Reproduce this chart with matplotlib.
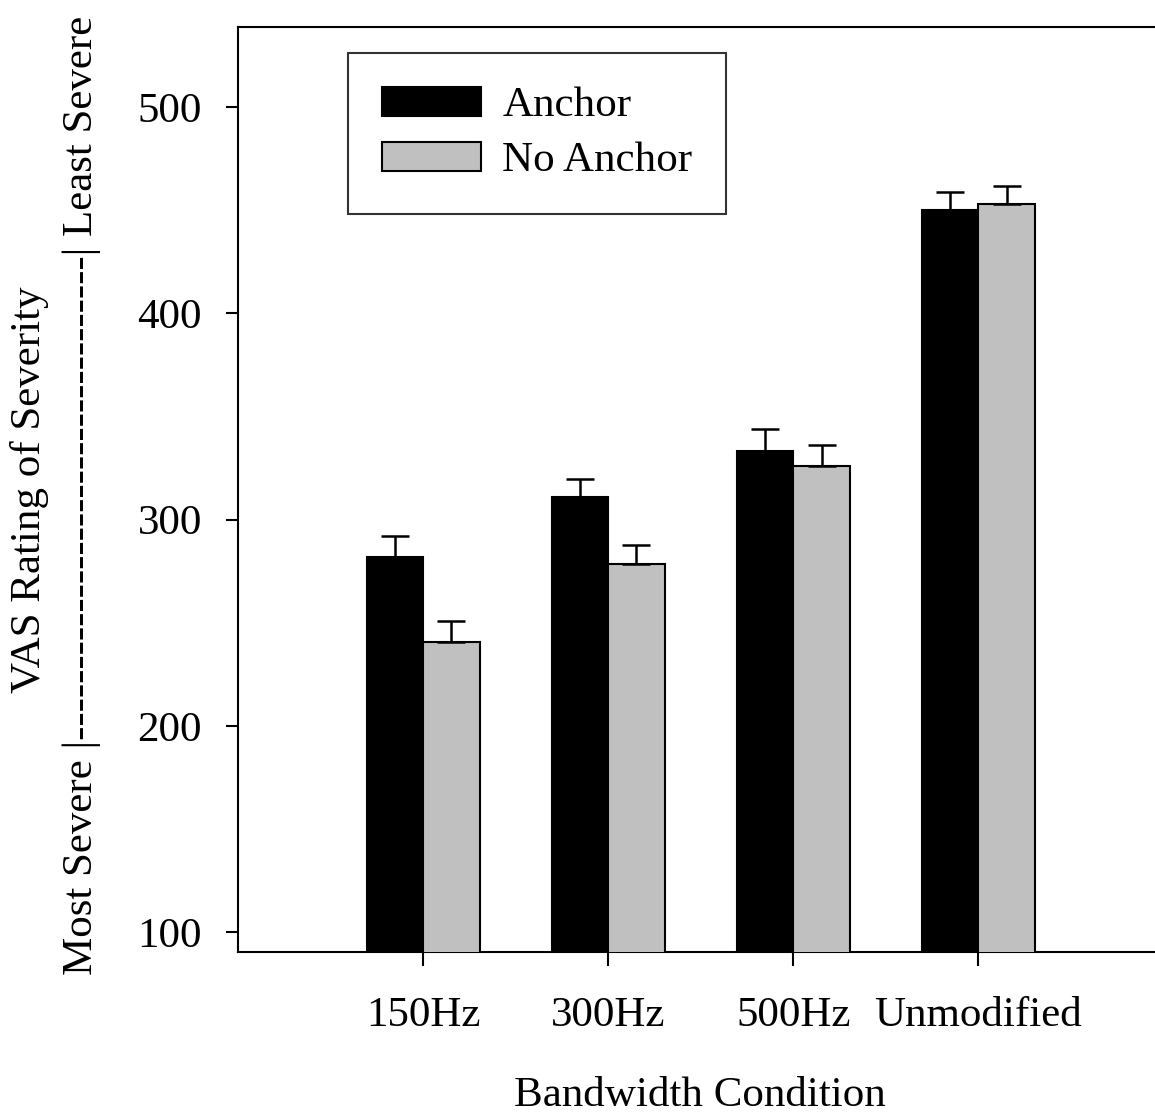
import matplotlib
matplotlib.use("Agg")
import matplotlib.pyplot as plt
import numpy as np

categories = ["150Hz", "300Hz", "500Hz", "Unmodified"]
anchor = [282.0, 310.8, 333.4, 450.1]
anchor_err = [10.2, 8.9, 10.3, 8.6]
no_anchor = [240.5, 278.4, 325.9, 452.9]
no_anchor_err = [10.5, 9.2, 10.4, 8.9]
yticks = [100, 200, 300, 400, 500]

plt.rcParams['font.family'] = ['Liberation Serif', 'DejaVu Serif']
FS = 31

W, H = 1155, 1117
fig = plt.figure(figsize=(W / 100, H / 100), dpi=100)
ax = fig.add_axes([238 / W, (H - 952) / H, 925.5 / W, (952 - 27) / H])

x = np.arange(len(categories))
bw = 0.305
ekw = dict(elinewidth=1.8, capthick=1.8, ecolor='black')
ax.bar(x - bw / 2, anchor, bw, color='black', edgecolor='black', linewidth=1.5,
       yerr=[np.zeros(4), anchor_err], capsize=10, error_kw=ekw,
       label='Anchor', zorder=3)
ax.bar(x + bw / 2, no_anchor, bw, color='#c0c0c0', edgecolor='black', linewidth=1.5,
       yerr=[np.zeros(4), no_anchor_err], capsize=10, error_kw=ekw,
       label='No Anchor', zorder=3)

ax.set_xlim(-1, 4)
ax.set_ylim(90.3, 538.8)
ax.set_yticks(yticks)
ax.set_xticks(x)
ax.set_xticklabels(categories)
ax.tick_params(axis='y', direction='out', length=9, width=1.5, labelsize=FS, pad=17)
ax.tick_params(axis='x', direction='out', length=10, width=1.5, labelsize=FS, pad=22)
for s in ax.spines.values():
    s.set_linewidth(1.5)

fig.text(700 / W, 1 - 1106 / H, 'Bandwidth Condition', ha='center', va='baseline',
         fontsize=FS)

fig.text(30 / W, 1 - 490 / H, 'VAS Rating of Severity', rotation=90,
         ha='center', va='center', fontsize=FS)
fig.text(82 / W, 1 - 495 / H, 'Most Severe |' + '-' * 34 + '| Least Severe', rotation=90,
         ha='center', va='center', fontsize=FS)

leg = ax.legend(loc='upper left', bbox_to_anchor=((348 - 238) / 925.5, (952 - 53) / 925),
                fontsize=FS, frameon=True, fancybox=False, borderaxespad=0,
                handlelength=2.3, handleheight=0.66, handletextpad=0.5,
                borderpad=0.78, labelspacing=0.38)
leg.get_frame().set_edgecolor('black')
leg.get_frame().set_linewidth(1.5)

fig.savefig('out.png', dpi=100)
